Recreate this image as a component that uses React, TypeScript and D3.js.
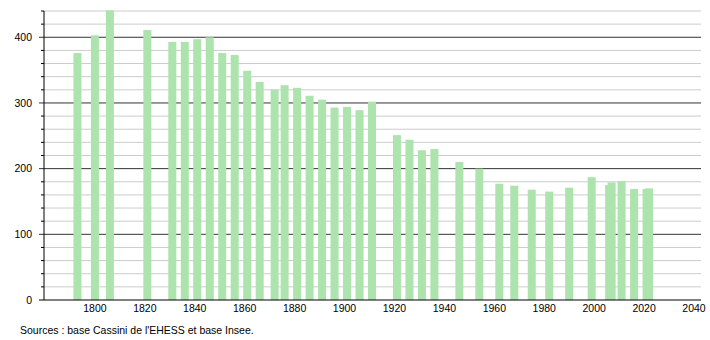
import React from "react";
import * as d3 from "d3";

const years = [1793, 1800, 1806, 1821, 1831, 1836, 1841, 1846, 1851, 1856, 1861, 1866, 1872, 1876, 1881, 1886, 1891, 1896, 1901, 1906, 1911, 1921, 1926, 1931, 1936, 1946, 1954, 1962, 1968, 1975, 1982, 1990, 1999, 2006, 2007, 2011, 2016, 2021, 2022];
const population = [376, 403, 441, 411, 393, 393, 397, 400, 376, 373, 349, 332, 320, 327, 323, 311, 305, 293, 294, 289, 302, 251, 244, 228, 230, 210, 200, 177, 174, 168, 165, 171, 187, 175, 179, 181, 169, 169, 170];
const xTicks = [1800, 1820, 1840, 1860, 1880, 1900, 1920, 1940, 1960, 1980, 2000, 2020, 2040];
const yMajor = [100, 200, 300, 400];
const yLabels = [0, 100, 200, 300, 400];
const yMinor = d3.range(20, 441, 20).filter((v) => v % 100 !== 0);
const source = "Sources : base Cassini de l'EHESS et base Insee.";

export default function App() {
  const W = 710, H = 340;
  const left = 44, right = 701;
  const x = d3.scaleLinear().domain([1780, 2040]).range([45, 694]);
  const y = d3.scaleLinear().domain([0, 440]).range([300, 11]);
  const bw = 8;
  const font = "'Liberation Sans', Arial, sans-serif";
  const fs = 10.5;
  return (
    <svg width={W} height={H} style={{ position: "absolute", left: 0, top: 0, background: "#fff" }} fontFamily={font}>
      {yMinor.map((v) => (
        <g key={"mi" + v}>
          <line x1={left} x2={right} y1={y(v)} y2={y(v)} stroke="#cccccc" strokeWidth={1} />
          <line x1={41} x2={left} y1={y(v)} y2={y(v)} stroke="#000" strokeWidth={1} />
        </g>
      ))}
      {yMajor.map((v) => (
        <g key={"ma" + v}>
          <line x1={39} x2={right} y1={y(v)} y2={y(v)} stroke="#333" strokeWidth={1} />
        </g>
      ))}
      {years.map((yr, i) => (
        <rect key={yr} x={x(yr) - bw / 2} y={y(population[i])} width={bw} height={y(0) - y(population[i])} fill="#ade3ad" />
      ))}
      <line x1={left} x2={left} y1={y(440)} y2={y(0)} stroke="#000" strokeWidth={1} />
      <line x1={39} x2={right} y1={y(0)} y2={y(0)} stroke="#000" strokeWidth={1} />
      {yLabels.map((v) => (
        <text key={"yl" + v} x={32} y={y(v)} dy="0.35em" textAnchor="end" fontSize={fs} fill="#000">{v}</text>
      ))}
      {xTicks.map((t) => (
        <text key={"xl" + t} x={x(t)} y={312} textAnchor="middle" fontSize={fs} fill="#000">{t}</text>
      ))}
      <text x={20} y={334} fontSize={fs} fill="#000">{source}</text>
    </svg>
  );
}
